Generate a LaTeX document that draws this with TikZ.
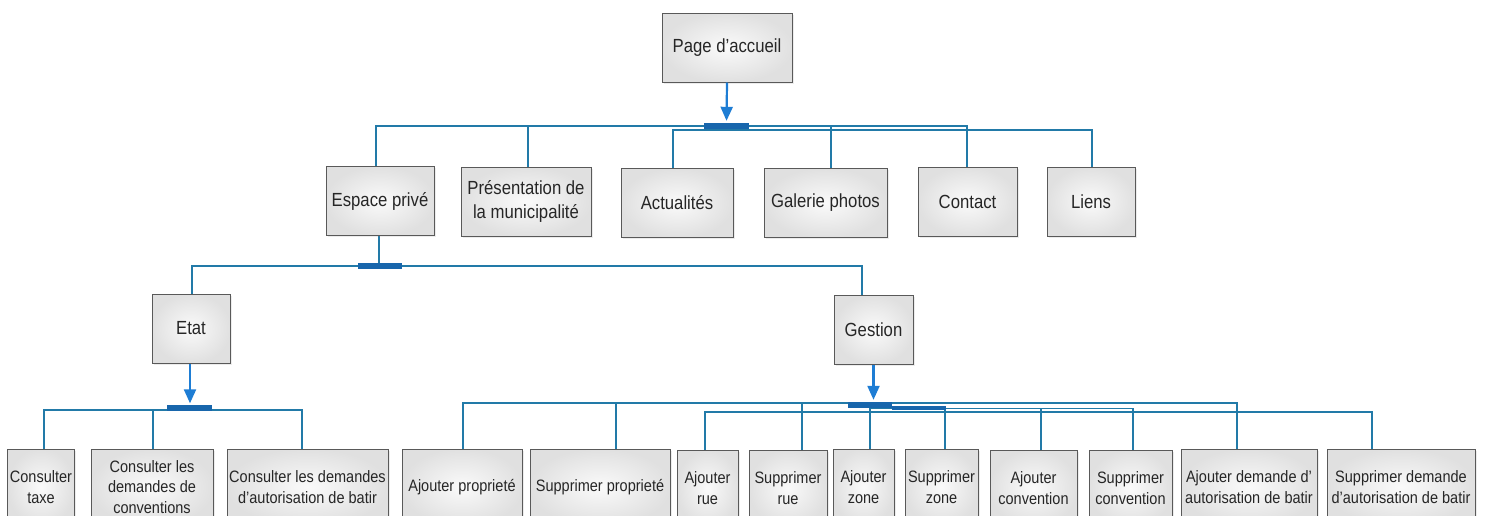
\documentclass[tikz,border=0pt]{standalone}
\usepackage{fontspec}
\setmainfont{Liberation Sans}[FakeStretch=0.88]
\usetikzlibrary{arrows.meta,shadows}
\definecolor{linkc}{RGB}{34,122,168}
\definecolor{barc}{RGB}{24,102,172}
\definecolor{arrc}{RGB}{30,125,212}
\pgfdeclarelayer{bg}
\pgfsetlayers{bg,main}
\tikzset{
  box/.style={draw=gray!70!black, line width=1pt, inner color=gray!4, outer color=gray!24,
    inner sep=2pt, align=center, text=black!85,
    drop shadow={opacity=0.15, shadow xshift=1.5pt, shadow yshift=-1.5pt}},
  upper/.style={box, minimum height=69pt, font=\fontsize{19}{23.5}\selectfont},
  lower/.style={box, minimum height=76pt, font=\fontsize{16.5}{20.5}\selectfont},
  bus/.style={draw=linkc, line width=1.9pt},
  junction/.style={fill=barc, draw=none, minimum width=45pt, minimum height=6pt, inner sep=0pt},
  down/.style={draw=arrc, line width=2.2pt, -{Triangle[width=12pt,length=14pt]}, shorten >=1.5pt}
}
\begin{document}
\begin{tikzpicture}[x=1pt,y=-1pt]
\useasboundingbox (0,0) rectangle (1486,515);
\clip (0,0) rectangle (1486,515);

% root
\node[upper, minimum width=130pt] (page) at (727,47.5) {Page d'accueil};

% first level
\node[upper, minimum width=108pt] (esp)   at (380,201)   {Espace privé};
\node[upper, minimum width=130pt] (pres)  at (526,201.5) {Présentation de\\la municipalité};
\node[upper, minimum width=112pt] (actu)  at (677,203)   {Actualités};
\node[upper, minimum width=123pt] (gal)   at (825.5,203) {Galerie photos};
\node[upper, minimum width=99pt]  (cont)  at (967.5,201.5){Contact};
\node[upper, minimum width=88pt]  (liens) at (1091,201.5){Liens};

% second level
\node[upper, minimum width=78pt] (etat) at (191,328.5)   {Etat};
\node[upper, minimum width=79pt] (gest) at (873.5,329.5) {Gestion};

% leaves
\node[lower, minimum width=66pt]  (taxe)    at (41,487)     {Consulter\\taxe};
\node[lower, minimum width=122pt] (convs)   at (152,487)    {Consulter les\\demandes de\\conventions};
\node[lower, minimum width=161pt] (autor)   at (307.5,487)  {Consulter les demandes\\d'autorisation de batir};
\node[lower, minimum width=120pt] (ajprop)  at (462,487)    {Ajouter proprieté};
\node[lower, minimum width=140pt] (supprop) at (600,487)    {Supprimer proprieté};
\node[lower, minimum width=61pt]  (ajrue)   at (707.5,488)  {Ajouter\\rue};
\node[lower, minimum width=78pt]  (suprue)  at (788,488)    {Supprimer\\rue};
\node[lower, minimum width=61pt]  (ajzone)  at (863.5,487)  {Ajouter\\zone};
\node[lower, minimum width=73pt]  (supzone) at (941.5,487)  {Supprimer\\zone};
\node[lower, minimum width=87pt]  (ajconv)  at (1033.5,488) {Ajouter\\convention};
\node[lower, minimum width=83pt]  (supconv) at (1130.5,488) {Supprimer\\convention};
\node[lower, minimum width=136pt] (ajdem)   at (1249,487)   {Ajouter demande d'\\autorisation de batir};
\node[lower, minimum width=148pt] (supdem)  at (1401,487)   {Supprimer demande\\d'autorisation de batir};

% junction bars
\node[junction] (j0) at (726.5,125.5) {};
\node[junction, minimum width=44pt] (j1) at (380,266) {};
\node[junction] (j2) at (189,408) {};
\node[junction, minimum width=44pt] (j3) at (870,404.5) {};

% bus points
\coordinate (a1) at (727,126);
\coordinate (a2) at (727,130);
\coordinate (b1) at (380,266);
\coordinate (c1) at (190,410);
\coordinate (d1) at (870,403);
\coordinate (d2) at (870,412);
\coordinate (d3) at (870,408.5);

\begin{pgfonlayer}{bg}
  % root to first level
  \draw[bus] (a1) -| ([xshift=-4pt]esp.north);
  \draw[bus] (a1) -| ([xshift=2pt]pres.north);
  \draw[bus] (a1) -| ([xshift=5.5pt]gal.north);
  \draw[bus] (a1) -| ([xshift=-0.5pt]cont.north);
  \draw[bus] (a2) -| ([xshift=-4pt]actu.north);
  \draw[bus] (a2) -| ([xshift=1pt]liens.north);
  % espace prive to second level
  \draw[bus] ([xshift=-1pt]esp.south) -- ([xshift=-1pt]j1.center);
  \draw[bus] (b1) -| ([xshift=1pt]etat.north);
  \draw[bus] (b1) -| ([xshift=-11.5pt]gest.north);
  % etat to leaves
  \draw[bus] (c1) -| ([xshift=3pt]taxe.north);
  \draw[bus] (c1) -| ([xshift=1pt]convs.north);
  \draw[bus] (c1) -| ([xshift=-5.5pt]autor.north);
  % gestion to leaves
  \draw[bus] (d1) -| ([xshift=1pt]ajprop.north);
  \draw[bus] (d1) -| ([xshift=16pt]supprop.north);
  \draw[bus] (d1) -| ([xshift=14pt]suprue.north);
  \draw[bus] (d1) -| ([xshift=-12pt]ajdem.north);
  \draw[bus] (d2) -| ([xshift=-2.5pt]ajrue.north);
  \draw[bus] (d2) -| ([xshift=-29pt]supdem.north);
  \draw[bus] (d3) -| ([xshift=3.5pt]supzone.north);
  \draw[bus] (d3) -| ([xshift=7.5pt]ajconv.north);
  \draw[bus] (d3) -| ([xshift=2.5pt]supconv.north);
  \draw[bus] (j3.center) -- ([xshift=6.5pt]ajzone.north);
\end{pgfonlayer}

% short extension of the gestion junction
\fill[barc] (892,405.5) rectangle (946,409.5);

% arrows into the junctions
\draw[down] (page.south) -- (j0.north);
\draw[down] ([xshift=-1pt]etat.south) -- ([xshift=1pt]j2.north);
\draw[down] (gest.south) -- ([xshift=3.5pt]j3.north);
\end{tikzpicture}
\end{document}
